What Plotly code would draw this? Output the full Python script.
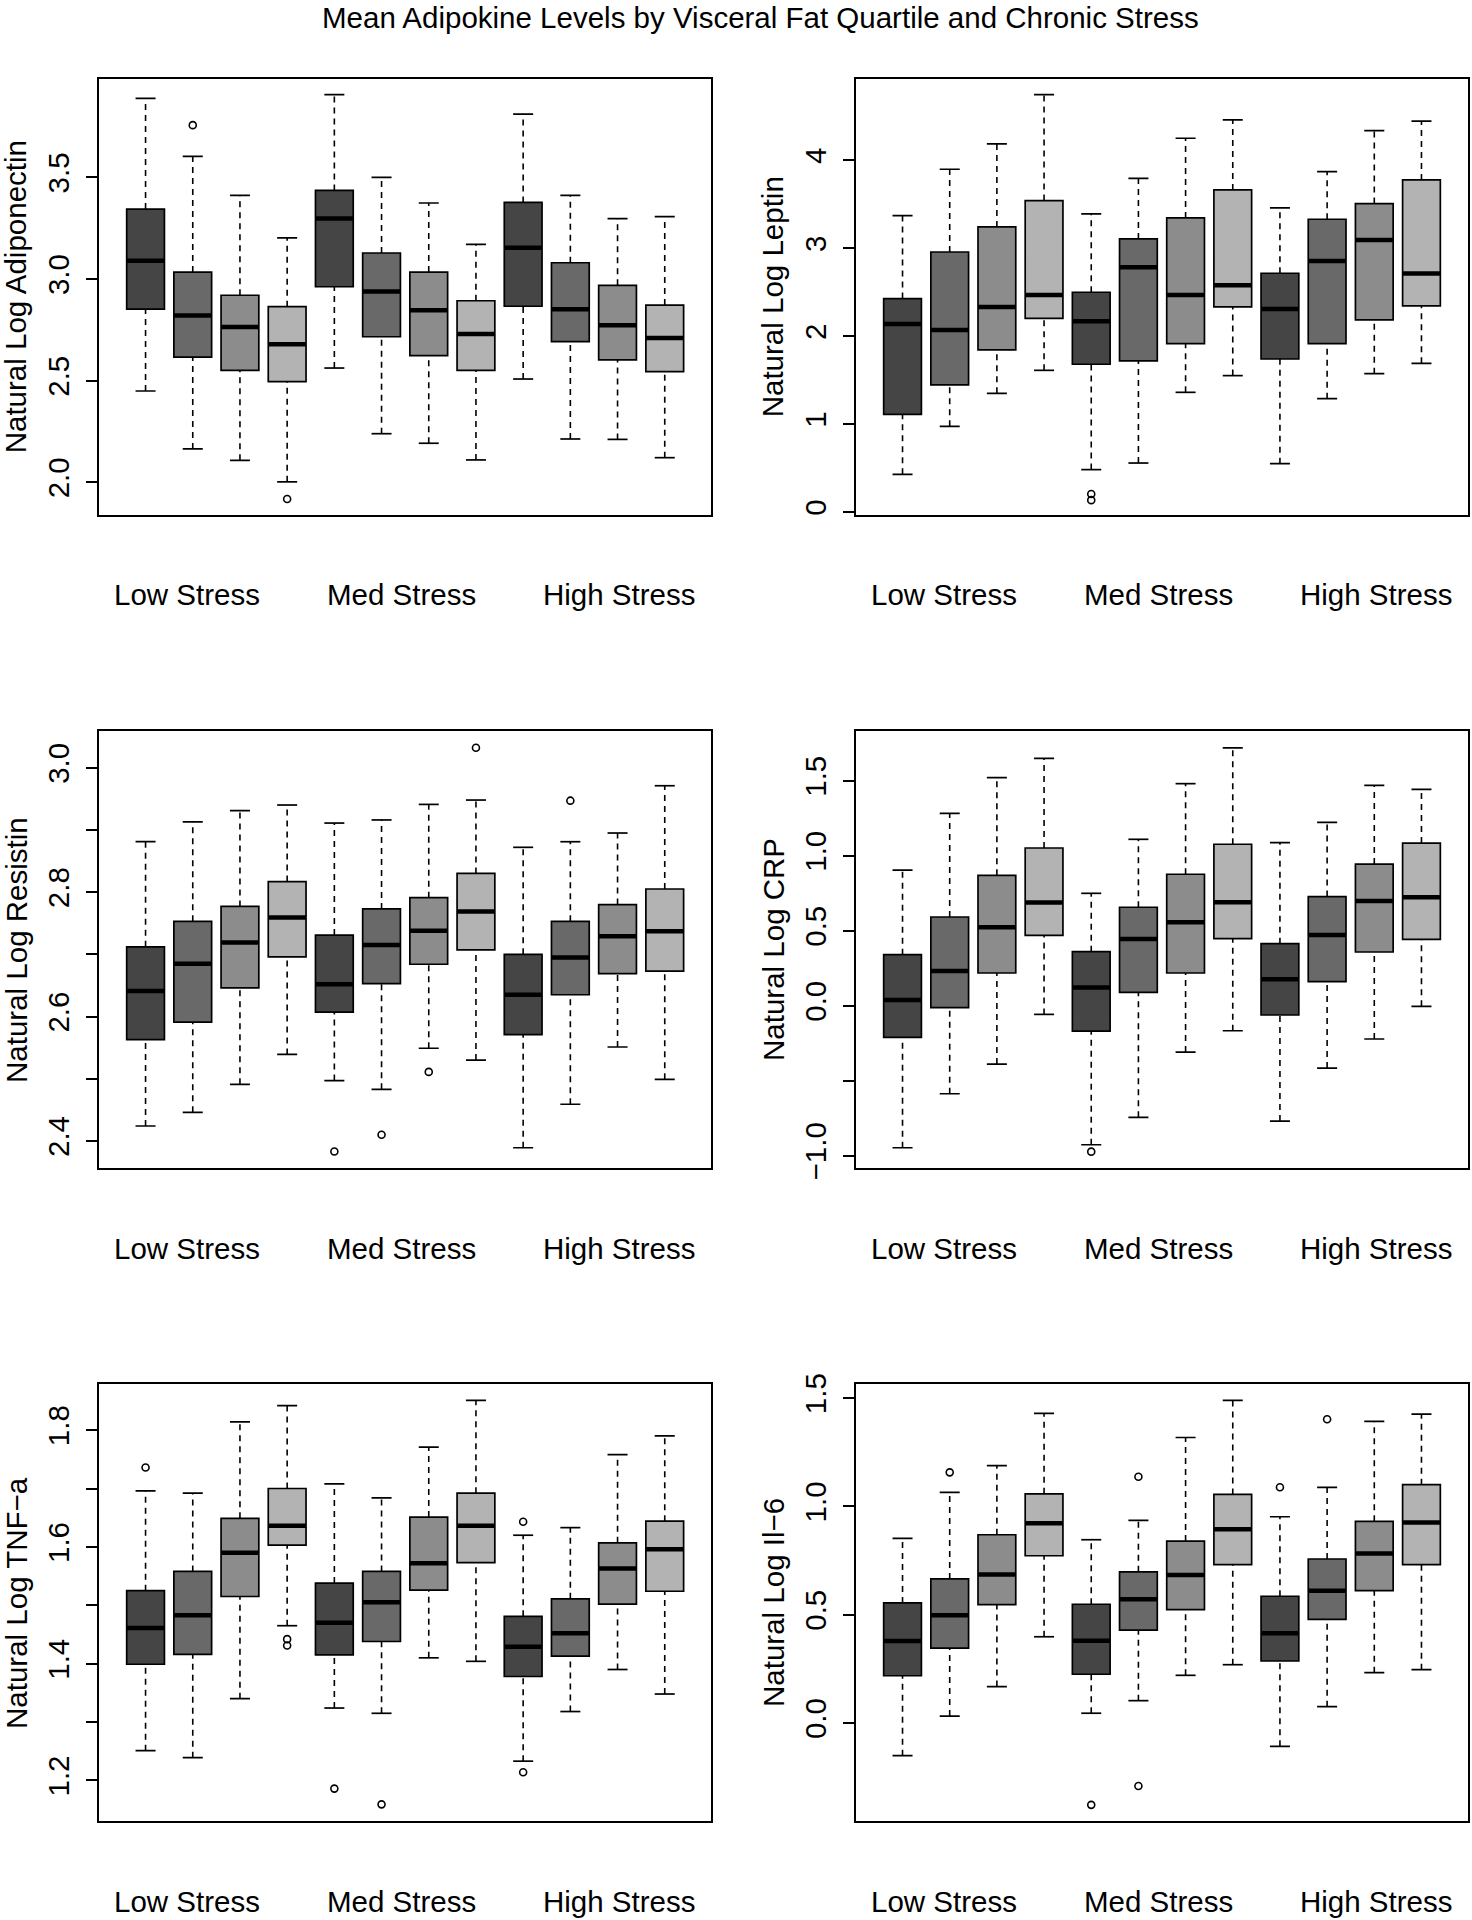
import plotly.graph_objects as go

# ---------------- data ----------------
groups = ["Low Stress", "Med Stress", "High Stress"]
group_label_pos = [1.87, 6.42, 11.03]
quartile_colors = ["#454545", "#696969", "#8C8C8C", "#B3B3B3"]
box_pos = [1, 2, 3, 4, 5, 6, 7, 8, 9, 10, 11, 12]  # group-major, quartile-minor

# Adiponectin
adipo_lo  = [2.449, 2.164, 2.108, 2.002, 2.562, 2.239, 2.192, 2.110, 2.508, 2.213, 2.211, 2.121]
adipo_q1  = [2.852, 2.616, 2.551, 2.495, 2.962, 2.716, 2.623, 2.551, 2.866, 2.692, 2.602, 2.544]
adipo_med = [3.090, 2.821, 2.764, 2.679, 3.298, 2.938, 2.846, 2.730, 3.154, 2.851, 2.772, 2.710]
adipo_q3  = [3.344, 3.034, 2.920, 2.864, 3.436, 3.128, 3.034, 2.893, 3.377, 3.080, 2.969, 2.872]
adipo_hi  = [3.889, 3.603, 3.411, 3.202, 3.907, 3.500, 3.374, 3.170, 3.811, 3.411, 3.297, 3.307]
adipo_out_box = [2, 4]
adipo_out_val = [3.757, 1.918]

# Leptin
leptin_lo  = [0.428, 0.974, 1.350, 1.611, 0.482, 0.557, 1.361, 1.551, 0.550, 1.289, 1.573, 1.691]
leptin_q1  = [1.111, 1.445, 1.843, 2.203, 1.680, 1.718, 1.915, 2.332, 1.740, 1.915, 2.184, 2.343]
leptin_med = [2.138, 2.070, 2.332, 2.468, 2.169, 2.783, 2.468, 2.578, 2.309, 2.855, 3.094, 2.711]
leptin_q3  = [2.427, 2.957, 3.242, 3.541, 2.499, 3.105, 3.344, 3.663, 2.715, 3.329, 3.507, 3.776]
leptin_hi  = [3.371, 3.898, 4.186, 4.747, 3.390, 3.795, 4.250, 4.459, 3.458, 3.871, 4.337, 4.444]
leptin_out_box = [5, 5]
leptin_out_val = [0.205, 0.135]

# Resistin
resist_lo  = [2.424, 2.446, 2.491, 2.539, 2.497, 2.483, 2.549, 2.530, 2.389, 2.459, 2.551, 2.499]
resist_q1  = [2.563, 2.591, 2.646, 2.696, 2.607, 2.653, 2.684, 2.707, 2.571, 2.635, 2.669, 2.673]
resist_med = [2.641, 2.685, 2.719, 2.759, 2.652, 2.715, 2.738, 2.769, 2.635, 2.695, 2.729, 2.737]
resist_q3  = [2.712, 2.753, 2.777, 2.817, 2.731, 2.773, 2.791, 2.830, 2.700, 2.753, 2.780, 2.805]
resist_hi  = [2.881, 2.913, 2.931, 2.940, 2.911, 2.916, 2.941, 2.948, 2.872, 2.881, 2.895, 2.971]
resist_out_box = [5, 6, 7, 8, 10]
resist_out_val = [2.383, 2.410, 2.511, 3.032, 2.947]

# CRP
crp_lo  = [-0.947, -0.587, -0.389, -0.058, -0.927, -0.744, -0.309, -0.167, -0.769, -0.416, -0.222, -0.004]
crp_q1  = [-0.211, -0.013, 0.218, 0.469, -0.169, 0.089, 0.218, 0.447, -0.062, 0.160, 0.358, 0.442]
crp_med = [0.038, 0.231, 0.522, 0.687, 0.122, 0.444, 0.556, 0.689, 0.176, 0.471, 0.698, 0.722]
crp_q3  = [0.340, 0.591, 0.869, 1.051, 0.360, 0.656, 0.876, 1.076, 0.413, 0.727, 0.944, 1.084]
crp_hi  = [0.904, 1.282, 1.520, 1.649, 0.749, 1.109, 1.480, 1.718, 1.087, 1.222, 1.469, 1.442]
crp_out_box = [5]
crp_out_val = [-0.973]

# TNF-a
tnf_lo  = [1.251, 1.239, 1.340, 1.465, 1.324, 1.315, 1.410, 1.404, 1.233, 1.318, 1.390, 1.348]
tnf_q1  = [1.399, 1.416, 1.515, 1.603, 1.415, 1.438, 1.526, 1.573, 1.378, 1.413, 1.502, 1.524]
tnf_med = [1.461, 1.483, 1.590, 1.636, 1.470, 1.505, 1.572, 1.636, 1.429, 1.452, 1.563, 1.596]
tnf_q3  = [1.525, 1.558, 1.649, 1.700, 1.538, 1.558, 1.651, 1.692, 1.481, 1.511, 1.607, 1.644]
tnf_hi  = [1.696, 1.692, 1.814, 1.842, 1.708, 1.684, 1.771, 1.851, 1.620, 1.633, 1.758, 1.790]
tnf_out_box = [1, 4, 4, 5, 6, 9, 9]
tnf_out_val = [1.736, 1.442, 1.431, 1.186, 1.159, 1.643, 1.214]

# Il-6
il6_lo  = [-0.151, 0.032, 0.168, 0.398, 0.045, 0.103, 0.220, 0.269, -0.108, 0.075, 0.232, 0.246]
il6_q1  = [0.218, 0.346, 0.546, 0.772, 0.225, 0.429, 0.523, 0.731, 0.286, 0.478, 0.611, 0.731]
il6_med = [0.378, 0.497, 0.686, 0.922, 0.380, 0.571, 0.683, 0.894, 0.414, 0.611, 0.783, 0.926]
il6_q3  = [0.554, 0.665, 0.869, 1.058, 0.548, 0.698, 0.840, 1.055, 0.585, 0.757, 0.931, 1.100]
il6_hi  = [0.852, 1.065, 1.188, 1.429, 0.846, 0.935, 1.318, 1.489, 0.952, 1.088, 1.392, 1.426]
il6_out_box = [2, 5, 6, 6, 9, 10]
il6_out_val = [1.157, -0.378, 1.137, -0.291, 1.088, 1.402]

# axis settings
titles = ["Natural Log Adiponectin", "Natural Log Leptin", "Natural Log Resistin",
          "Natural Log CRP", "Natural Log TNF\u2212a", "Natural Log Il\u22126"]
y_ranges = [[1.839, 3.984], [-0.034, 4.924], [2.356, 3.059],
            [-1.084, 1.831], [1.130, 1.879], [-0.454, 1.565]]
y_tickvals = [[2.0, 2.5, 3.0, 3.5], [0, 1, 2, 3, 4],
              [2.4, 2.5, 2.6, 2.7, 2.8, 2.9, 3.0], [-1.0, -0.5, 0.0, 0.5, 1.0, 1.5],
              [1.2, 1.3, 1.4, 1.5, 1.6, 1.7, 1.8], [0.0, 0.5, 1.0, 1.5]]
y_ticktext = [["2.0", "2.5", "3.0", "3.5"], ["0", "1", "2", "3", "4"],
              ["2.4", "", "2.6", "", "2.8", "", "3.0"], ["\u22121.0", "", "0.0", "0.5", "1.0", "1.5"],
              ["1.2", "", "1.4", "", "1.6", "", "1.8"], ["0.0", "0.5", "1.0", "1.5"]]

panels = [
    (adipo_lo, adipo_q1, adipo_med, adipo_q3, adipo_hi, adipo_out_box, adipo_out_val),
    (leptin_lo, leptin_q1, leptin_med, leptin_q3, leptin_hi, leptin_out_box, leptin_out_val),
    (resist_lo, resist_q1, resist_med, resist_q3, resist_hi, resist_out_box, resist_out_val),
    (crp_lo, crp_q1, crp_med, crp_q3, crp_hi, crp_out_box, crp_out_val),
    (tnf_lo, tnf_q1, tnf_med, tnf_q3, tnf_hi, tnf_out_box, tnf_out_val),
    (il6_lo, il6_q1, il6_med, il6_q3, il6_hi, il6_out_box, il6_out_val),
]

# ---------------- layout geometry ----------------
W, H = 1472, 1920
col_px = [(99.3, 711.0), (856.3, 1467.7)]
row_px = [(79.0, 515.0), (731.0, 1168.3), (1384.0, 1821.3)]
FONT = "Liberation Sans, Arial, Helvetica, sans-serif"
FS = 29.5

fig = go.Figure()
layout = dict(width=W, height=H, margin=dict(l=0, r=0, t=0, b=0, autoexpand=False),
              paper_bgcolor="white", plot_bgcolor="white", showlegend=False,
              font=dict(family=FONT, size=FS, color="black"), boxmode="overlay")
annotations = []

for k, (lo, q1, med, q3, hi, ob, ov) in enumerate(panels):
    r, c = divmod(k, 2)
    ax = "" if k == 0 else str(k + 1)
    xa, ya = "x" + ax, "y" + ax
    x0, x1 = col_px[c]
    y0, y1 = row_px[r]
    # boxes, one trace per quartile colour
    for q in range(4):
        idx = [q, q + 4, q + 8]
        fig.add_trace(go.Box(
            x=[box_pos[i] for i in idx],
            q1=[q1[i] for i in idx], median=[med[i] for i in idx], q3=[q3[i] for i in idx],
            lowerfence=[q1[i] for i in idx], upperfence=[q3[i] for i in idx],
            fillcolor=quartile_colors[q], line=dict(color="black", width=1.7),
            width=0.8, whiskerwidth=0, boxpoints=False, hoverinfo="skip",
            xaxis=xa, yaxis=ya))
    # dashed whiskers
    wx, wy = [], []
    for i in range(12):
        wx += [box_pos[i], box_pos[i], None, box_pos[i], box_pos[i], None]
        wy += [q3[i], hi[i], None, lo[i], q1[i], None]
    fig.add_trace(go.Scatter(x=wx, y=wy, mode="lines", hoverinfo="skip",
                             line=dict(color="black", width=1.6, dash="6px,5px"),
                             xaxis=xa, yaxis=ya))
    # whisker caps (line-ew length = 1.4 * size)
    fig.add_trace(go.Scatter(x=box_pos + box_pos, y=hi + lo, mode="markers", hoverinfo="skip",
                             marker=dict(symbol="line-ew", size=14.3,
                                         line=dict(color="black", width=1.7)),
                             xaxis=xa, yaxis=ya))
    # thick medians
    fig.add_trace(go.Scatter(x=box_pos, y=med, mode="markers", hoverinfo="skip",
                             marker=dict(symbol="line-ew", size=27,
                                         line=dict(color="black", width=4.5)),
                             xaxis=xa, yaxis=ya))
    # outliers
    fig.add_trace(go.Scatter(x=ob, y=ov, mode="markers", hoverinfo="skip",
                             marker=dict(symbol="circle-open", size=7, color="black",
                                         line=dict(color="black", width=1.6)),
                             xaxis=xa, yaxis=ya))

    layout["xaxis" + ax] = dict(domain=[x0 / W, x1 / W], range=[0.02, 12.98], anchor=ya,
                                showticklabels=False, ticks="", showgrid=False, zeroline=False,
                                automargin=False,
                                showline=True, mirror=True, linecolor="black", linewidth=1.5)
    layout["yaxis" + ax] = dict(domain=[1 - y1 / H, 1 - y0 / H], range=y_ranges[k], anchor=xa,
                                tickmode="array", tickvals=y_tickvals[k], ticktext=y_ticktext[k],
                                ticks="outside", ticklen=12, tickwidth=1.5, tickcolor="black",
                                tickangle=-90, tickfont=dict(size=FS, family=FONT),
                                ticklabelstandoff=5, automargin=False,
                                showgrid=False, zeroline=False,
                                showline=True, mirror=True, linecolor="black", linewidth=1.5)
    # y-axis title
    annotations.append(dict(text=titles[k], textangle=-90, xref="paper", yref="paper",
                            x=(x0 - 83) / W, y=1 - (y0 + y1) / 2 / H, showarrow=False,
                            xanchor="center", yanchor="middle", font=dict(size=FS)))
    # group labels below each panel
    for g, name in enumerate(groups):
        annotations.append(dict(text=name, xref=xa, yref="paper", x=group_label_pos[g],
                                y=1 - (y1 + 80) / H, showarrow=False,
                                xanchor="center", yanchor="middle", font=dict(size=FS)))

annotations.append(dict(text="Mean Adipokine Levels by Visceral Fat Quartile and Chronic Stress",
                        xref="paper", yref="paper", x=760 / W, y=1 - 17 / H, showarrow=False,
                        xanchor="center", yanchor="middle", font=dict(size=FS)))
layout["annotations"] = annotations
fig.update_layout(**layout)
fig.write_html("out.html", config={"displayModeBar": False},
               post_script="document.body.style.margin='0';document.body.style.padding='0';")
